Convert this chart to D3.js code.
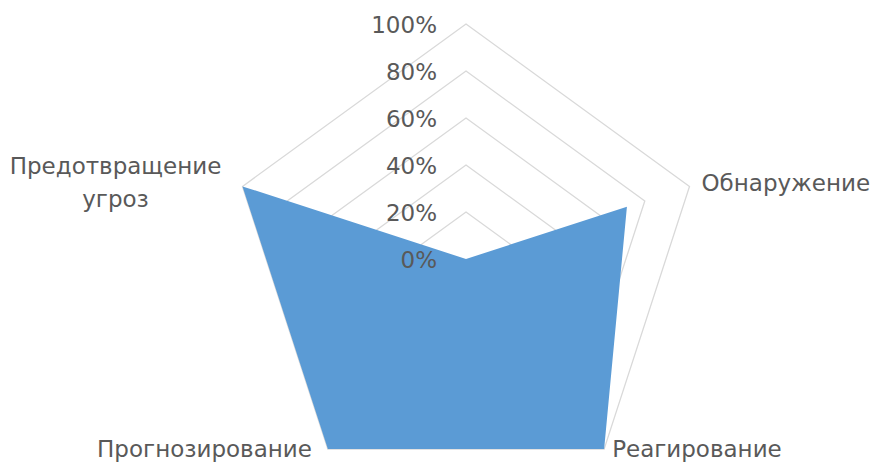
<!DOCTYPE html>
<html>
<head>
<meta charset="utf-8">
<script src="https://cdn.jsdelivr.net/npm/d3@7"></script>
<style>
  body { margin: 0; background: #fff; }
  text { font-family: "DejaVu Sans", sans-serif; fill: #595959; }
</style>
</head>
<body>
<div id="chart"></div>
<script>
// data
var categories = ["", "Обнаружение", "Реагирование", "Прогнозирование", "Предотвращение угроз"];
var values = [0, 0.72, 1, 1, 1];
var ticks = [0, 0.2, 0.4, 0.6, 0.8, 1];

var width = 875, height = 466;
var cx = 466, cy = 259, R = 235;
var fontSize = "23px";

var svg = d3.select("#chart").append("svg").attr("width", width).attr("height", height);
var g = svg.append("g").attr("transform", "translate(" + cx + "," + cy + ")");

var r = d3.scaleLinear().domain([0, 1]).range([0, R]);
var angle = d3.scaleLinear().domain([0, categories.length]).range([0, 2 * Math.PI]);

// grid rings
var ring = d3.lineRadial()
  .angle(function(d, i){ return angle(i); })
  .radius(function(d){ return r(d); })
  .curve(d3.curveLinearClosed);

ticks.forEach(function(t){
  if (t === 0) return;
  g.append("path")
    .attr("d", ring(categories.map(function(){ return t; })))
    .attr("fill", "none")
    .attr("stroke", "#d9d9d9")
    .attr("stroke-width", 1.3);
});

// series area
g.append("path")
  .attr("d", ring(values))
  .attr("fill", "#5b9bd5");

// tick labels
ticks.forEach(function(t){
  g.append("text")
    .attr("x", -29)
    .attr("y", -r(t) + 2)
    .attr("text-anchor", "end")
    .attr("dominant-baseline", "middle")
    .style("font-size", fontSize)
    .text(d3.format(".0%")(t));
});

// category labels
var labelPos = [
  null,
  {dx: 12, dy: -2, anchor: "start"},
  {dx: 8, dy: 1, anchor: "start"},
  {dx: -16, dy: 1, anchor: "end"},
  {dx: -2, dy: 0, anchor: "middle"}
];

categories.forEach(function(c, i){
  if (!c) return;
  var a = angle(i);
  var x = Math.sin(a) * r(1), y = -Math.cos(a) * r(1);
  var p = labelPos[i];
  if (i === 4) {
    var t = g.append("text").attr("text-anchor", "middle").style("font-size", fontSize);
    t.append("tspan").attr("x", x - 127).attr("y", y - 19).attr("dominant-baseline", "middle").text("Предотвращение");
    t.append("tspan").attr("x", x - 127).attr("y", y + 14).attr("dominant-baseline", "middle").text("угроз");
    return;
  }
  g.append("text")
    .attr("x", x + p.dx)
    .attr("y", y + p.dy)
    .attr("text-anchor", p.anchor)
    .attr("dominant-baseline", "middle")
    .style("font-size", fontSize)
    .text(c);
});
</script>
</body>
</html>
